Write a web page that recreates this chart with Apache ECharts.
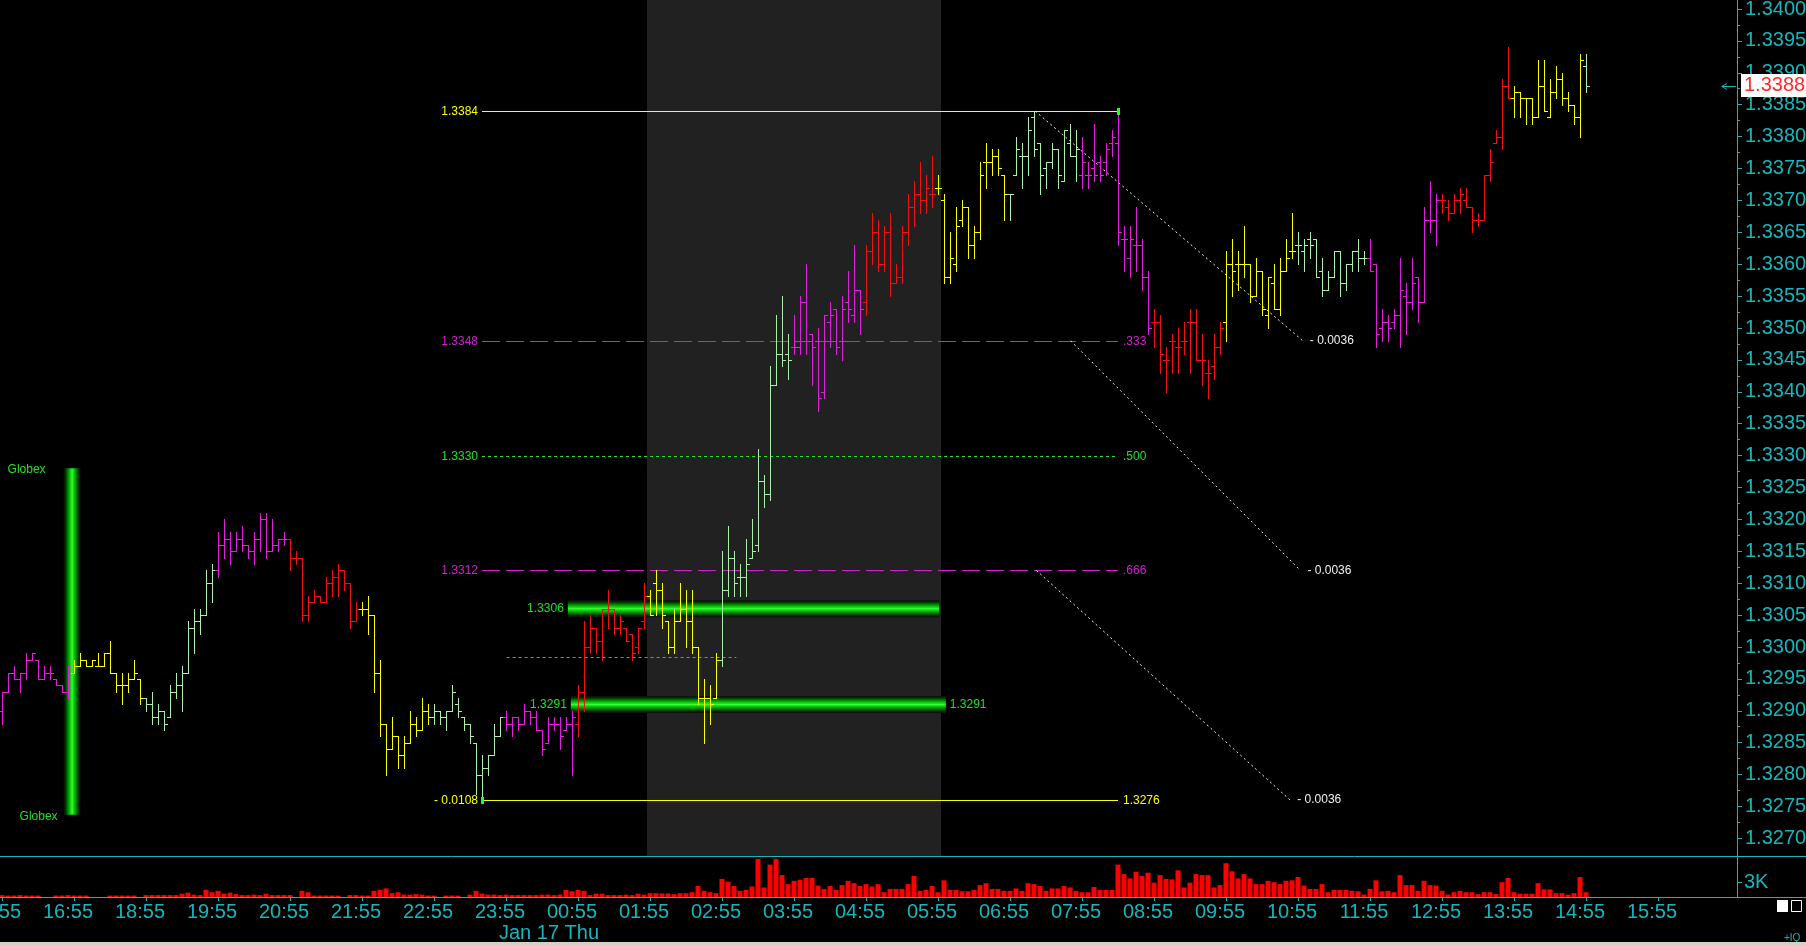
<!DOCTYPE html>
<html><head><meta charset="utf-8">
<script src="https://cdn.jsdelivr.net/npm/echarts@6/dist/echarts.min.js"></script>
<style>html,body{margin:0;padding:0;background:#000;overflow:hidden}#c{width:1806px;height:945px}</style>
</head><body><div id="c"></div>
<script>
// ---------- data ----------
const timeLabels = ['15:55','16:55','18:55','19:55','20:55','21:55','22:55','23:55','00:55','01:55','02:55','03:55','04:55','05:55','06:55','07:55','08:55','09:55','10:55','11:55','12:55','13:55','14:55','15:55'];
const priceTicks = [1.3270,1.3275,1.3280,1.3285,1.3290,1.3295,1.3300,1.3305,1.3310,1.3315,1.3320,1.3325,1.3330,1.3335,1.3340,1.3345,1.3350,1.3355,1.3360,1.3365,1.3370,1.3375,1.3380,1.3385,1.3390,1.3395,1.3400];
const open = [
1.3290,1.3293,1.3296,1.3295,1.3296,1.3298,1.3298,1.3295,1.3296,1.3295,1.3294,1.3293,
1.3296,1.3297,1.3298,1.3297,1.3297,1.3297,1.3299,1.3296,1.3294,1.3294,1.3295,1.3295,
1.3292,1.3291,1.3289,1.3290,1.3289,1.3293,1.3294,1.3296,1.3303,1.3304,1.3305,1.3310,
1.3312,1.3316,1.3317,1.3315,1.3317,1.3316,1.3315,1.3317,1.3320,1.3315,1.3316,1.3317,
1.3317,1.3314,1.3314,1.3305,1.3307,1.3308,1.3307,1.3310,1.3311,1.3312,1.3310,1.3304,
1.3306,1.3306,1.3305,1.3296,1.3288,1.3284,1.3286,1.3283,1.3285,1.3288,1.3287,1.3290,
1.3289,1.3290,1.3289,1.3290,1.3291,1.3289,1.3288,1.3285,1.3280,1.3281,1.3283,1.3286,
1.3289,1.3288,1.3289,1.3288,1.3290,1.3289,1.3287,1.3285,1.3288,1.3288,1.3287,1.3288,
1.3288,1.3293,1.3300,1.3303,1.3301,1.3306,1.3306,1.3303,1.3303,1.3302,1.3300,1.3304,
1.3308,1.3310,1.3309,1.3304,1.3300,1.3304,1.3306,1.3304,1.3300,1.3292,1.3292,1.3292,
1.3298,1.3309,1.3314,1.3311,1.3311,1.3314,1.3316,1.3326,1.3324,1.3341,1.3346,1.3346,
1.3347,1.3347,1.3354,1.3349,1.3348,1.3340,1.3351,1.3353,1.3348,1.3354,1.3352,1.3356,
1.3354,1.3362,1.3365,1.3360,1.3365,1.3357,1.3358,1.3365,1.3369,1.3371,1.3370,1.3371,
1.3372,1.3370,1.3358,1.3360,1.3367,1.3369,1.3363,1.3365,1.3376,1.3376,1.3377,1.3374,
1.3371,1.3374,1.3377,1.3377,1.3383,1.3379,1.3375,1.3376,1.3378,1.3373,1.3379,1.3377,
1.3374,1.3374,1.3375,1.3376,1.3376,1.3379,1.3379,1.3364,1.3361,1.3363,1.3363,1.3358,
1.3351,1.3351,1.3345,1.3348,1.3347,1.3348,1.3351,1.3351,1.3345,1.3343,1.3344,1.3347,
1.3351,1.3360,1.3360,1.3360,1.3360,1.3355,1.3359,1.3352,1.3357,1.3353,1.3359,1.3362,
1.3363,1.3362,1.3364,1.3364,1.3359,1.3356,1.3358,1.3362,1.3357,1.3360,1.3362,1.3361,
1.3361,1.3360,1.3350,1.3351,1.3351,1.3352,1.3355,1.3354,1.3358,1.3354,1.3367,1.3367,
1.3370,1.3369,1.3368,1.3370,1.3370,1.3369,1.3367,1.3367,1.3374,1.3379,1.3380,1.3388,
1.3386,1.3387,1.3386,1.3386,1.3383,1.3388,1.3383,1.3387,1.3389,1.3386,1.3385,1.3383,
1.3391];
const high = [
1.3293,1.3296,1.3297,1.3296,1.3299,1.3299,1.3298,1.3297,1.3297,1.3295,1.3294,1.3297,
1.3298,1.3299,1.3298,1.3298,1.3299,1.3299,1.3301,1.3296,1.3296,1.3296,1.3298,1.3295,
1.3292,1.3293,1.3291,1.3290,1.3294,1.3296,1.3297,1.3304,1.3306,1.3306,1.3312,1.3313,
1.3318,1.3320,1.3318,1.3318,1.3319,1.3316,1.3318,1.3321,1.3321,1.3320,1.3317,1.3318,
1.3317,1.3315,1.3314,1.3308,1.3309,1.3308,1.3311,1.3312,1.3313,1.3312,1.3310,1.3307,
1.3307,1.3308,1.3305,1.3298,1.3288,1.3289,1.3286,1.3286,1.3290,1.3289,1.3292,1.3291,
1.3291,1.3290,1.3290,1.3294,1.3292,1.3289,1.3288,1.3285,1.3283,1.3283,1.3288,1.3289,
1.3290,1.3289,1.3289,1.3291,1.3290,1.3290,1.3287,1.3289,1.3289,1.3289,1.3289,1.3290,
1.3294,1.3304,1.3305,1.3303,1.3306,1.3309,1.3306,1.3305,1.3303,1.3302,1.3303,1.3310,
1.3309,1.3312,1.3310,1.3304,1.3306,1.3310,1.3309,1.3309,1.3300,1.3295,1.3294,1.3299,
1.3315,1.3319,1.3315,1.3313,1.3317,1.3320,1.3331,1.3327,1.3344,1.3352,1.3355,1.3349,
1.3352,1.3355,1.3360,1.3349,1.3350,1.3352,1.3354,1.3353,1.3355,1.3359,1.3363,1.3356,
1.3363,1.3368,1.3367,1.3366,1.3368,1.3360,1.3366,1.3371,1.3373,1.3376,1.3374,1.3377,
1.3374,1.3371,1.3365,1.3369,1.3370,1.3369,1.3366,1.3376,1.3379,1.3378,1.3378,1.3374,
1.3371,1.3380,1.3379,1.3383,1.3384,1.3379,1.3376,1.3379,1.3378,1.3381,1.3382,1.3381,
1.3380,1.3376,1.3382,1.3377,1.3379,1.3381,1.3384,1.3366,1.3366,1.3369,1.3364,1.3359,
1.3353,1.3352,1.3347,1.3349,1.3350,1.3351,1.3353,1.3353,1.3349,1.3345,1.3349,1.3351,
1.3362,1.3364,1.3362,1.3366,1.3360,1.3361,1.3359,1.3358,1.3360,1.3361,1.3364,1.3368,
1.3365,1.3364,1.3365,1.3364,1.3361,1.3359,1.3362,1.3362,1.3360,1.3362,1.3364,1.3362,
1.3364,1.3360,1.3353,1.3352,1.3353,1.3361,1.3357,1.3361,1.3358,1.3369,1.3373,1.3371,
1.3371,1.3370,1.3371,1.3372,1.3372,1.3369,1.3368,1.3374,1.3378,1.3381,1.3389,1.3394,
1.3388,1.3387,1.3386,1.3386,1.3392,1.3392,1.3389,1.3391,1.3390,1.3387,1.3385,1.3393,
1.3393];
const low = [
1.3288,1.3293,1.3295,1.3293,1.3295,1.3298,1.3295,1.3295,1.3295,1.3294,1.3293,1.3292,
1.3296,1.3297,1.3297,1.3297,1.3297,1.3297,1.3296,1.3293,1.3291,1.3293,1.3295,1.3291,
1.3290,1.3288,1.3288,1.3287,1.3289,1.3292,1.3290,1.3296,1.3299,1.3302,1.3305,1.3307,
1.3311,1.3314,1.3313,1.3315,1.3315,1.3314,1.3313,1.3315,1.3314,1.3315,1.3315,1.3316,
1.3312,1.3313,1.3304,1.3304,1.3307,1.3307,1.3307,1.3308,1.3308,1.3309,1.3303,1.3304,
1.3305,1.3302,1.3293,1.3286,1.3280,1.3284,1.3281,1.3281,1.3285,1.3286,1.3287,1.3288,
1.3288,1.3288,1.3287,1.3290,1.3289,1.3287,1.3285,1.3277,1.3276,1.3280,1.3283,1.3286,
1.3287,1.3286,1.3287,1.3288,1.3288,1.3287,1.3283,1.3285,1.3287,1.3284,1.3287,1.3280,
1.3286,1.3290,1.3299,1.3299,1.3298,1.3303,1.3302,1.3302,1.3301,1.3298,1.3299,1.3303,
1.3305,1.3305,1.3303,1.3299,1.3299,1.3304,1.3300,1.3299,1.3291,1.3285,1.3288,1.3292,
1.3297,1.3308,1.3308,1.3308,1.3308,1.3314,1.3315,1.3322,1.3323,1.3341,1.3344,1.3342,
1.3346,1.3346,1.3346,1.3341,1.3337,1.3339,1.3347,1.3346,1.3345,1.3351,1.3351,1.3349,
1.3352,1.3360,1.3359,1.3359,1.3355,1.3357,1.3357,1.3363,1.3366,1.3368,1.3368,1.3369,
1.3371,1.3357,1.3357,1.3359,1.3366,1.3361,1.3361,1.3364,1.3372,1.3374,1.3374,1.3367,
1.3367,1.3374,1.3372,1.3374,1.3377,1.3371,1.3372,1.3375,1.3372,1.3373,1.3377,1.3373,
1.3372,1.3372,1.3373,1.3373,1.3374,1.3377,1.3363,1.3359,1.3358,1.3359,1.3356,1.3349,
1.3347,1.3343,1.3340,1.3343,1.3343,1.3346,1.3343,1.3345,1.3341,1.3339,1.3342,1.3346,
1.3348,1.3355,1.3356,1.3358,1.3354,1.3355,1.3352,1.3350,1.3353,1.3352,1.3359,1.3361,
1.3360,1.3359,1.3361,1.3358,1.3355,1.3356,1.3358,1.3355,1.3356,1.3359,1.3359,1.3360,
1.3359,1.3347,1.3348,1.3348,1.3350,1.3347,1.3349,1.3353,1.3351,1.3354,1.3365,1.3363,
1.3368,1.3367,1.3368,1.3368,1.3369,1.3365,1.3366,1.3367,1.3373,1.3379,1.3378,1.3386,
1.3383,1.3383,1.3382,1.3382,1.3383,1.3384,1.3383,1.3386,1.3385,1.3384,1.3382,1.3380,
1.3387];
const close = [
1.3293,1.3296,1.3295,1.3296,1.3298,1.3299,1.3295,1.3296,1.3296,1.3294,1.3293,1.3296,
1.3297,1.3298,1.3297,1.3298,1.3297,1.3299,1.3296,1.3294,1.3294,1.3295,1.3296,1.3292,
1.3291,1.3289,1.3290,1.3288,1.3293,1.3294,1.3296,1.3303,1.3304,1.3305,1.3310,1.3312,
1.3316,1.3317,1.3315,1.3317,1.3316,1.3315,1.3317,1.3320,1.3315,1.3316,1.3317,1.3317,
1.3314,1.3314,1.3305,1.3307,1.3308,1.3307,1.3310,1.3311,1.3312,1.3310,1.3304,1.3306,
1.3306,1.3305,1.3296,1.3288,1.3284,1.3286,1.3283,1.3285,1.3288,1.3287,1.3290,1.3289,
1.3290,1.3289,1.3290,1.3293,1.3290,1.3288,1.3286,1.3280,1.3281,1.3283,1.3286,1.3289,
1.3288,1.3289,1.3288,1.3290,1.3289,1.3287,1.3284,1.3288,1.3288,1.3286,1.3288,1.3289,
1.3293,1.3300,1.3303,1.3301,1.3306,1.3306,1.3303,1.3304,1.3301,1.3299,1.3303,1.3308,
1.3305,1.3309,1.3305,1.3300,1.3304,1.3306,1.3304,1.3300,1.3292,1.3292,1.3291,1.3298,
1.3309,1.3314,1.3310,1.3311,1.3313,1.3315,1.3326,1.3324,1.3341,1.3346,1.3345,1.3345,
1.3347,1.3354,1.3348,1.3347,1.3339,1.3352,1.3352,1.3347,1.3353,1.3353,1.3356,1.3353,
1.3362,1.3365,1.3360,1.3365,1.3357,1.3358,1.3365,1.3369,1.3371,1.3370,1.3372,1.3371,
1.3372,1.3358,1.3361,1.3366,1.3369,1.3363,1.3365,1.3374,1.3376,1.3377,1.3375,1.3371,
1.3371,1.3378,1.3377,1.3381,1.3378,1.3374,1.3376,1.3378,1.3374,1.3381,1.3377,1.3378,
1.3376,1.3374,1.3374,1.3374,1.3378,1.3380,1.3365,1.3364,1.3364,1.3363,1.3358,1.3350,
1.3351,1.3346,1.3345,1.3348,1.3347,1.3348,1.3351,1.3345,1.3345,1.3343,1.3347,1.3350,
1.3360,1.3359,1.3360,1.3360,1.3355,1.3359,1.3353,1.3358,1.3353,1.3359,1.3361,1.3362,
1.3363,1.3363,1.3363,1.3358,1.3356,1.3358,1.3362,1.3357,1.3360,1.3362,1.3361,1.3361,
1.3359,1.3349,1.3351,1.3350,1.3352,1.3356,1.3354,1.3357,1.3354,1.3367,1.3367,1.3370,
1.3370,1.3368,1.3370,1.3371,1.3369,1.3367,1.3367,1.3374,1.3376,1.3380,1.3388,1.3386,
1.3387,1.3386,1.3386,1.3383,1.3388,1.3384,1.3387,1.3389,1.3386,1.3385,1.3383,1.3392,
1.3388];
// volume in thousands of contracts
const volume = [
0.4,0.3,0.3,0.4,0.3,0.3,0.3,0,0,0.3,0.3,0.4,
0.3,0.3,0.3,0,0,0,0.3,0.3,0.3,0.3,0.3,0,
0.4,0.4,0.4,0.4,0.4,0.4,0.7,0.9,0.5,0.4,1.5,1.0,
1.3,0.7,0.9,0.6,0.4,0.4,0.5,0.4,0.7,0.4,0.4,0.4,
0.4,0,1.3,1.0,0.3,0.3,0.3,0.3,0.3,0,0.4,0.4,
0.3,0.3,1.3,1.5,1.8,0.8,1.0,0.5,0.5,0.6,0.5,0.3,
0.3,0,0.3,0.3,0.3,0,0.5,1.3,0.7,0.5,0.5,0.4,
0.5,0.4,0.4,0.4,0.4,0.4,0.5,0.5,0.4,0.5,1.5,1.2,
1.5,1.3,0.4,0.7,0.7,0.4,0.4,0.4,0.5,0.4,0.7,0.5,
0.8,0.8,0.75,0.75,0.6,0.8,0.8,1.0,2.3,1.3,1.0,0.8,
3.8,3.2,2.3,1.3,1.5,2.2,8.0,2.0,6.8,8.0,4.6,2.7,
3.4,3.6,4.0,4.0,2.4,1.7,2.3,1.5,2.5,3.4,2.9,2.3,
2.7,2.2,2.7,1.0,1.7,1.7,1.7,2.7,4.4,1.3,1.5,2.3,
1.0,3.5,1.5,1.5,1.2,1.2,1.5,2.5,2.9,1.7,1.7,1.3,
1.3,1.8,1.3,2.9,2.7,2.3,1.3,1.8,1.8,2.3,2.0,1.3,
1.0,1.0,2.1,1.5,1.5,1.5,6.8,4.8,3.9,5.3,4.4,5.1,
3.0,4.6,3.8,3.7,5.6,2.0,3.0,4.8,4.6,4.6,2.0,2.5,
7.1,5.4,3.9,4.8,3.9,2.7,2.7,3.4,3.1,2.7,3.4,3.5,
4.2,2.4,1.7,1.7,2.7,1.0,1.5,1.5,1.5,1.3,1.2,0.5,
1.7,3.5,1.2,1.3,1.0,4.6,2.5,2.5,1.3,3.4,2.5,2.4,
1.3,0.5,1.0,1.3,1.0,1.0,0.6,1.0,1.0,0.6,3.1,4.0,
1.0,0.7,0.7,0.7,2.9,1.6,1.6,0.8,0.8,0.5,0.8,4.2,
1.0];
const hourColors = ['m','y','g','m','r','y','g','m','r','y','g','m','r','y','g','m','r','y','g','m','r','y','g'];
const lastPrice = 1.3388;
const volTickValue = 3, volTickLabel = '3K';
const fibStart = 80, fibEnd = 186;
const fibPrices = [1.3384, 1.3348, 1.3330, 1.3312, 1.3276];
const fibLeft = ['1.3384', '1.3348', '1.3330', '1.3312', '- 0.0108'];
const fibRight = ['', '.333', '.500', '.666', '1.3276'];
const fibMarkers = [[186, 1.3384], [80, 1.3276]];
const diagLines = [[172.2, 1.3384, 216.8, 1.3348], [178.1, 1.3348, 216.4, 1.3312], [172.4, 1.3312, 214.7, 1.3276]];
const diagLabel = '- 0.0036';
const glowBars = [[94.3, 156.2, 1.3306], [94.8, 157.3, 1.3291]];
const glowLeft = ['1.3306', '1.3291'];
const glowRight = ['', '1.3291'];
const midLine = [[84.1, 122.4, 1.32985]];
const globex = [[11.6, 1.3328, 1.32737]];
const globexLabel = 'Globex';
const session = [[107.5, 156.5]];
const dateLabel = 'Jan 17 Thu';

// ---------- styling ----------
const CYAN = '#17b6bc';
const AXFONT = "'Liberation Sans',Arial,sans-serif";
const BAR_COLORS = { m: '#e01ee0', y: '#ffff00', g: '#aaf0aa', r: '#f01010' };
const MAG = '#d21ed2', YEL = '#ffff00', GRN = '#22e022';
const FIB_STYLE = [
  { c: YEL, dash: null }, { c: MAG, dash: [18, 6] }, { c: GRN, dash: [3, 3] }, { c: MAG, dash: [18, 6] }, { c: YEL, dash: null }
];
const SMALL = "12px 'Liberation Sans',Arial,sans-serif";
const X_MIN = -0.5, X_MAX = -0.5 + 1738 / 6;
const Y_MIN = 1.326724, Y_MAX = 1.340141;
const tickIdx = timeLabels.map((_, i) => i * 12);
const minorTicks = priceTicks.slice(0, -1).map((v, i) => +((v + priceTicks[i + 1]) / 2).toFixed(5));

const glowStops = [
  { offset: 0, color: '#140814' }, { offset: 0.1, color: '#002a00' }, { offset: 0.3, color: '#00a000' },
  { offset: 0.45, color: '#18e818' }, { offset: 0.5, color: '#3cff3c' }, { offset: 0.55, color: '#18e818' },
  { offset: 0.7, color: '#00a000' }, { offset: 0.9, color: '#002a00' }, { offset: 1, color: '#140814' }
];
const vGrad = { type: 'linear', x: 0, y: 0, x2: 0, y2: 1, colorStops: glowStops };
const hGrad = { type: 'linear', x: 0, y: 0, x2: 1, y2: 0, colorStops: glowStops.map(s => ({ offset: s.offset, color: s.color === '#140814' ? '#001000' : s.color })) };

function txt(x, y, text, fill, align) {
  return { type: 'text', x: x, y: y, style: { text: text, fill: fill, font: SMALL, align: align, verticalAlign: 'middle' } };
}
const noLine = { show: false, onZero: false };

const chart = echarts.init(document.getElementById('c'), null, { renderer: 'canvas', width: 1806, height: 945 });

const option = {
  backgroundColor: '#000',
  animation: false,
  textStyle: { fontFamily: AXFONT },
  grid: [
    { left: -1, top: 0, width: 1738, height: 856, outerBoundsMode: 'none', containLabel: false },
    { left: -1, top: 857, width: 1738, height: 40, outerBoundsMode: 'none', containLabel: false }
  ],
  xAxis: [
    { type: 'value', gridIndex: 0, min: X_MIN, max: X_MAX, show: false, axisLine: noLine, splitLine: { show: false } },
    { type: 'value', gridIndex: 1, min: X_MIN, max: X_MAX, position: 'bottom',
      axisLine: noLine, splitLine: { show: false },
      axisTick: { show: true, customValues: tickIdx, length: 4, lineStyle: { color: CYAN } },
      axisLabel: { show: true, customValues: tickIdx, formatter: v => timeLabels[Math.round(v / 12)],
        color: CYAN, fontSize: 20, fontFamily: AXFONT, margin: 5, padding: [0, 12, 0, 0] } }
  ],
  yAxis: [
    { type: 'value', gridIndex: 0, position: 'right', min: Y_MIN, max: Y_MAX,
      axisLine: noLine, splitLine: { show: false },
      axisTick: { show: true, customValues: priceTicks, length: 5, lineStyle: { color: CYAN } },
      axisLabel: { show: true, customValues: priceTicks, formatter: v => v.toFixed(4),
        color: CYAN, fontSize: 20, fontFamily: AXFONT, margin: 8 } },
    { type: 'value', gridIndex: 0, position: 'right', min: Y_MIN, max: Y_MAX, z: 10,
      axisLine: noLine, splitLine: { show: false }, axisTick: { show: false },
      axisLabel: { show: true, customValues: [lastPrice], formatter: v => lastPrice.toFixed(4),
        color: '#ff2a2a', backgroundColor: '#ffffff', padding: [2, 2, 1, 3], fontSize: 20, fontFamily: AXFONT, margin: 4 } },
    { type: 'value', gridIndex: 0, position: 'right', min: Y_MIN, max: Y_MAX,
      axisLine: noLine, splitLine: { show: false }, axisLabel: { show: false },
      axisTick: { show: true, customValues: minorTicks, length: 3, lineStyle: { color: CYAN } } },
    { type: 'value', gridIndex: 1, position: 'right', min: 0, max: 8.4,
      axisLine: noLine, splitLine: { show: false },
      axisTick: { show: true, customValues: [volTickValue], length: 5, lineStyle: { color: CYAN } },
      axisLabel: { show: true, customValues: [volTickValue], formatter: () => volTickLabel,
        color: CYAN, fontSize: 20, fontFamily: AXFONT, margin: 7 } }
  ],
  series: [
    { // session shading
      type: 'custom', xAxisIndex: 0, yAxisIndex: 0, z: 1, data: session, silent: true,
      renderItem: (p, api) => {
        const a = api.coord([api.value(0), Y_MAX]), b = api.coord([api.value(1), Y_MIN]);
        return { type: 'rect', shape: { x: a[0], y: a[1], width: b[0] - a[0], height: b[1] - a[1] }, style: { fill: '#212121' } };
      }
    },
    { // globex marker
      type: 'custom', xAxisIndex: 0, yAxisIndex: 0, z: 2, data: globex, silent: true,
      renderItem: (p, api) => {
        const t = api.coord([api.value(0), api.value(1)]), b = api.coord([api.value(0), api.value(2)]);
        return { type: 'group', children: [
          { type: 'rect', shape: { x: t[0] - 8, y: t[1], width: 17, height: b[1] - t[1] }, style: { fill: hGrad } },
          txt(t[0] - 26, t[1] + 1, globexLabel, GRN, 'right'),
          txt(b[0] - 14, b[1] + 2, globexLabel, GRN, 'right')
        ] };
      }
    },
    { // green glow levels
      type: 'custom', xAxisIndex: 0, yAxisIndex: 0, z: 3, data: glowBars, silent: true,
      renderItem: (p, api) => {
        const a = api.coord([api.value(0), api.value(2)]), b = api.coord([api.value(1), api.value(2)]);
        const i = p.dataIndex;
        const ch = [{ type: 'rect', shape: { x: a[0], y: a[1] - 8.5, width: b[0] - a[0], height: 17 }, style: { fill: vGrad } }];
        if (glowLeft[i]) ch.push(txt(a[0] - 4, a[1], glowLeft[i], GRN, 'right'));
        if (glowRight[i]) ch.push(txt(b[0] + 4, b[1], glowRight[i], GRN, 'left'));
        return { type: 'group', children: ch };
      }
    },
    { // mid dashed line
      type: 'custom', xAxisIndex: 0, yAxisIndex: 0, z: 4, data: midLine, silent: true,
      renderItem: (p, api) => {
        const a = api.coord([api.value(0), api.value(2)]), b = api.coord([api.value(1), api.value(2)]);
        const y = Math.round(a[1]) + 0.5;
        return { type: 'line', shape: { x1: a[0], y1: y, x2: b[0], y2: y }, style: { stroke: '#2cc82c', lineWidth: 1, lineDash: [3, 3] } };
      }
    },
    { // fib retracement
      type: 'custom', xAxisIndex: 0, yAxisIndex: 0, z: 4, silent: true,
      data: fibPrices.map(v => [fibStart, fibEnd, v]),
      renderItem: (p, api) => {
        const a = api.coord([api.value(0), api.value(2)]), b = api.coord([api.value(1), api.value(2)]);
        const i = p.dataIndex, s = FIB_STYLE[i];
        const y = Math.round(a[1]) + 0.5;
        const ch = [{ type: 'line', shape: { x1: a[0], y1: y, x2: b[0], y2: y }, style: { stroke: s.c, lineWidth: 1, lineDash: s.dash } }];
        if (fibLeft[i]) ch.push(txt(a[0] - 4, y, fibLeft[i], s.c, 'right'));
        if (fibRight[i]) ch.push(txt(b[0] + 5, y, fibRight[i], s.c, 'left'));
        return { type: 'group', children: ch };
      }
    },
    { // diagonal speed lines
      type: 'custom', xAxisIndex: 0, yAxisIndex: 0, z: 4, data: diagLines, silent: true,
      renderItem: (p, api) => {
        const a = api.coord([api.value(0), api.value(1)]), b = api.coord([api.value(2), api.value(3)]);
        return { type: 'group', children: [
          { type: 'line', shape: { x1: a[0], y1: a[1], x2: b[0], y2: b[1] }, style: { stroke: '#f0f0f0', lineWidth: 1, lineDash: [2, 3] } },
          txt(b[0] + 7, b[1], diagLabel, '#f0f0f0', 'left')
        ] };
      }
    },
    { // OHLC bars
      type: 'custom', xAxisIndex: 0, yAxisIndex: 0, z: 6, silent: true,
      data: open.map((o, k) => [k, o, high[k], low[k], close[k]]),
      encode: { x: 0, y: [1, 2, 3, 4] },
      renderItem: (p, api) => {
        const k = api.value(0);
        const ph = api.coord([k, api.value(2)]), pl = api.coord([k, api.value(3)]);
        const po = api.coord([k, api.value(1)]), pc = api.coord([k, api.value(4)]);
        const x = Math.round(ph[0]) + 0.5;
        const yh = Math.round(ph[1]), yl = Math.round(pl[1]) + 1;
        const yo = Math.round(po[1]) + 0.5, yc = Math.round(pc[1]) + 0.5;
        const st = { stroke: BAR_COLORS[hourColors[Math.floor(k / 12)]], lineWidth: 1 };
        return { type: 'group', children: [
          { type: 'line', shape: { x1: x, y1: yh, x2: x, y2: yl }, style: st },
          { type: 'line', shape: { x1: x - 3.5, y1: yo, x2: x, y2: yo }, style: st },
          { type: 'line', shape: { x1: x, y1: yc, x2: x + 3.5, y2: yc }, style: st }
        ] };
      }
    },
    { // fib end markers
      type: 'custom', xAxisIndex: 0, yAxisIndex: 0, z: 7, data: fibMarkers, silent: true,
      renderItem: (p, api) => {
        const a = api.coord([api.value(0), api.value(1)]);
        return { type: 'rect', shape: { x: Math.round(a[0]) - 1, y: Math.round(a[1]) - 3, width: 3, height: 7 }, style: { fill: '#20ff20' } };
      }
    },
    { // last price arrow
      type: 'custom', xAxisIndex: 0, yAxisIndex: 0, z: 7, data: [[287.8, lastPrice]], silent: true,
      renderItem: (p, api) => {
        const a = api.coord([api.value(0), api.value(1)]);
        const y = Math.round(a[1]) + 0.5, x = a[0];
        const st = { stroke: CYAN, lineWidth: 1 };
        return { type: 'group', children: [
          { type: 'line', shape: { x1: x - 7, y1: y, x2: x + 7, y2: y }, style: st },
          { type: 'line', shape: { x1: x - 7, y1: y, x2: x - 2, y2: y - 3 }, style: st },
          { type: 'line', shape: { x1: x - 7, y1: y, x2: x - 2, y2: y + 3 }, style: st }
        ] };
      }
    },
    { // volume
      type: 'bar', xAxisIndex: 1, yAxisIndex: 3, barWidth: 5, silent: true,
      data: volume.map((v, k) => [k, v]),
      itemStyle: { color: '#ff0000' }
    }
  ],
  graphic: [
    { type: 'line', silent: true, shape: { x1: 0, y1: 856.5, x2: 1806, y2: 856.5 }, style: { stroke: CYAN, lineWidth: 1 } },
    { type: 'line', silent: true, shape: { x1: 0, y1: 897.5, x2: 1806, y2: 897.5 }, style: { stroke: CYAN, lineWidth: 1 } },
    { type: 'line', silent: true, shape: { x1: 1737.5, y1: 0, x2: 1737.5, y2: 898 }, style: { stroke: CYAN, lineWidth: 1 } },
    { type: 'text', silent: true, x: 499, y: 933, style: { text: dateLabel, fill: CYAN, font: '20px ' + AXFONT, verticalAlign: 'middle' } },
    { type: 'rect', silent: true, shape: { x: 1777, y: 900, width: 11, height: 12 }, style: { fill: '#ffffff' } },
    { type: 'rect', silent: true, shape: { x: 1791.5, y: 900.5, width: 10, height: 11 }, style: { fill: 'none', stroke: '#ffffff', lineWidth: 1 } },
    { type: 'text', silent: true, x: 1784, y: 938, style: { text: '+IQ', fill: CYAN, font: '10px ' + AXFONT, verticalAlign: 'middle' } },
    { type: 'rect', silent: true, shape: { x: 0, y: 942, width: 1806, height: 3 }, style: { fill: '#d4d0c8' } }
  ]
};
chart.setOption(option);
</script></body></html>
